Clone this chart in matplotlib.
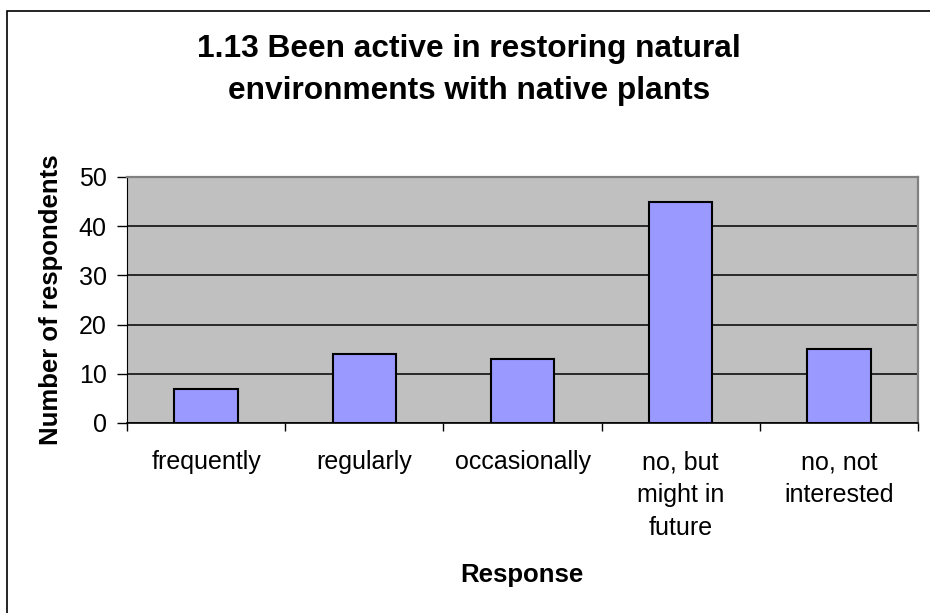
import matplotlib.pyplot as plt
from matplotlib.patches import Rectangle

plt.rcParams['font.family'] = ['Liberation Sans', 'DejaVu Sans']

responses = ["frequently", "regularly", "occasionally", "no, but\nmight in\nfuture", "no, not\ninterested"]
counts = [7, 14, 13, 45, 15]
y_ticks = [0, 10, 20, 30, 40, 50]

W, H = 930, 613
fig = plt.figure(figsize=(W / 100, H / 100), dpi=100)
# outer chart border (runs off the right and bottom edge like the original)
fig.patches.append(Rectangle((7 / W, -0.05), 1.0, 1 - 11 / H + 0.05,
                             transform=fig.transFigure, fill=False, edgecolor="black", linewidth=1.2))

left, right, top, bottom = 127, 918, 177, 423
ax = fig.add_axes([left / W, 1 - bottom / H, (right - left) / W, (bottom - top) / H])
ax.set_facecolor("#C0C0C0")
ax.bar(range(len(counts)), counts, width=0.4, color="#9999FF", edgecolor="black", linewidth=1.5, zorder=3)
ax.set_xlim(-0.5, len(counts) - 0.5)
ax.set_ylim(0, 50)
ax.set_yticks(y_ticks)
ax.yaxis.grid(True, color="black", linewidth=1.1, zorder=1)
ax.set_axisbelow(True)

ax.set_xticks(range(len(counts)))
ax.set_xticklabels(responses, fontsize=18, linespacing=1.46, va="top")
ax.tick_params(axis="x", length=0, pad=19.5)
ax.set_xticks([i - 0.5 for i in range(len(counts) + 1)], minor=True)
ax.tick_params(axis="x", which="minor", length=6, width=1, color="black", direction="out")
ax.tick_params(axis="y", labelsize=18, length=7, width=1, color="black", pad=7.5)

for s in ["top", "right"]:
    ax.spines[s].set_color("#808080")
    ax.spines[s].set_linewidth(1.6)
ax.spines["left"].set_color("black")
ax.spines["bottom"].set_color("black")
ax.spines["bottom"].set_linewidth(1.2)

fig.text(51 / W, 1 - 300 / H, "Number of respondents", rotation=90, ha="center", va="center",
         fontsize=18.5, fontweight="bold")
fig.text(522 / W, 1 - 575 / H, "Response", ha="center", va="center", fontsize=18.5, fontweight="bold")
fig.text(469 / W, 1 - 70 / H, "1.13 Been active in restoring natural\nenvironments with native plants",
         ha="center", va="center", fontsize=22.8, fontweight="bold", linespacing=1.55)

fig.savefig("out.png", dpi=100)
